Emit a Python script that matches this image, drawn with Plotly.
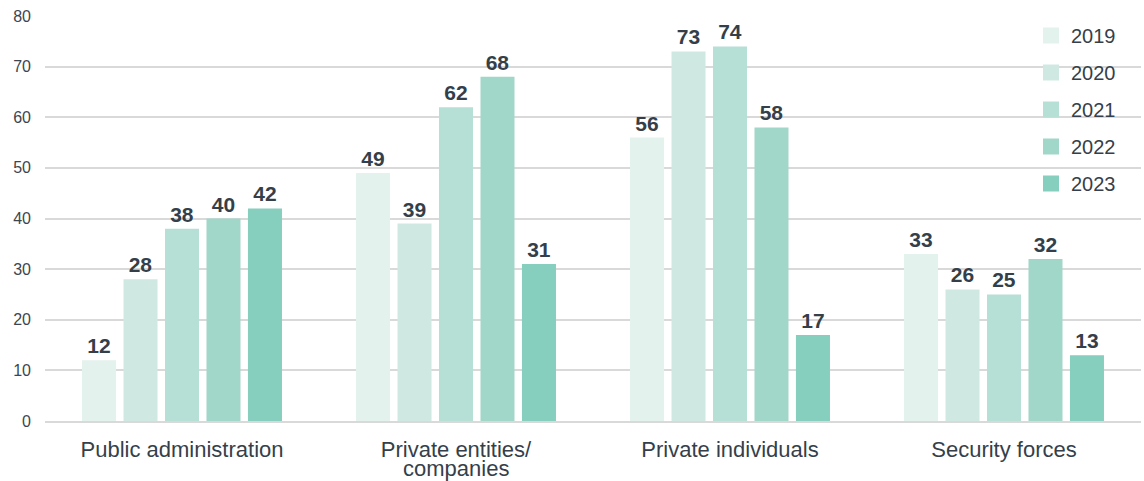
import plotly.graph_objects as go

categories = ["Public administration", "Private entities/ companies", "Private individuals", "Security forces"]
tick_line1 = ["Public administration", "Private entities/", "Private individuals", "Security forces"]
tick_line2 = ["", "companies", "", ""]
years = ["2019", "2020", "2021", "2022", "2023"]
values = {
    "2019": [12, 49, 56, 33],
    "2020": [28, 39, 73, 26],
    "2021": [38, 62, 74, 25],
    "2022": [40, 68, 58, 32],
    "2023": [42, 31, 17, 13],
}
colors = ["#e3f2ed", "#cfe9e2", "#b6e0d5", "#a1d7c8", "#86cebd"]
y_ticks = [0, 10, 20, 30, 40, 50, 60, 70, 80]

FONT = "Liberation Sans, Arial, sans-serif"
DARK = "#353f4a"

fig = go.Figure()
for yr, col in zip(years, colors):
    fig.add_trace(go.Bar(
        x=categories, y=values[yr], name=yr, marker_color=col,
        marker_line_width=0,
        texttemplate="<b>%{y}</b>", textposition="outside",
        textfont=dict(family=FONT, size=21, color=DARK),
        cliponaxis=False, showlegend=False,
    ))
    fig.add_trace(go.Scatter(
        x=[None], y=[None], mode="markers", name=yr,
        marker=dict(symbol="square", size=18, color=col),
        legendgroup=yr, showlegend=True,
    ))

# second line of wrapped category labels (tight line spacing as in reference)
for cat, line2 in zip(categories, tick_line2):
    if line2:
        fig.add_annotation(x=cat, xref="x", y=-0.1185, yref="paper",
                           text=line2, showarrow=False, yanchor="middle",
                           font=dict(family=FONT, size=22, color=DARK))

fig.update_layout(
    width=1144, height=481,
    margin=dict(l=45, r=3, t=16, b=60, autoexpand=False),
    plot_bgcolor="white", paper_bgcolor="white",
    barmode="group", bargap=0.243, bargroupgap=0.18,
    font=dict(family=FONT, color=DARK),
    legend=dict(x=1.0 - 20 / 1096, xanchor="right", y=1.0, yanchor="top",
                font=dict(size=20, color=DARK), bgcolor="rgba(0,0,0,0)",
                tracegroupgap=8, itemwidth=30),
    uniformtext=dict(mode=False),
)
fig.update_yaxes(range=[0, 80], tickvals=y_ticks, showgrid=True,
                 gridcolor="#d9d9d9", gridwidth=1.5, zeroline=False,
                 showline=False, ticks="", ticklabelstandoff=13,
                 tickfont=dict(size=16, color="#3d4650"), automargin=False)
fig.update_xaxes(showline=True, linecolor="#d9d9d9", linewidth=1.5, ticks="",
                 tickvals=categories, ticktext=tick_line1,
                 tickfont=dict(size=22, color=DARK), ticklabelstandoff=8,
                 automargin=False)

fig.write_html("out.html")
